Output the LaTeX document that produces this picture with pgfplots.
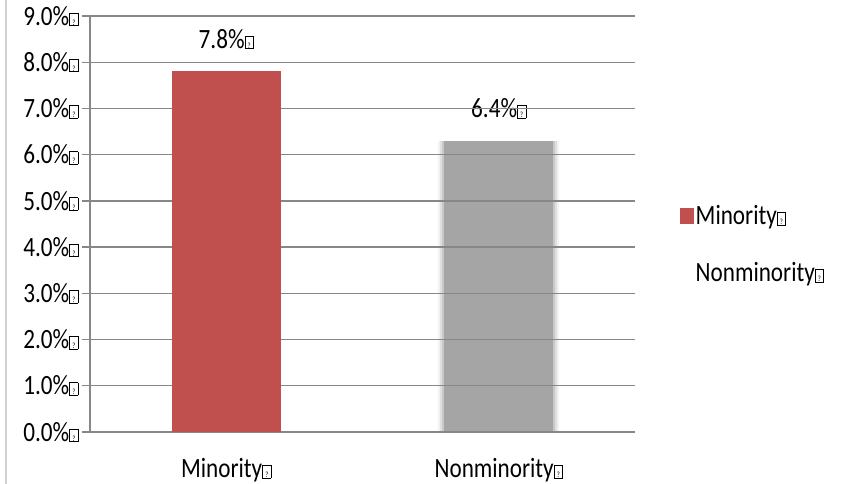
\documentclass[border=0pt]{standalone}
\usepackage{fontspec}
\setmainfont[FakeStretch=0.83]{Carlito}
\usepackage{pgfplots}
\pgfplotsset{compat=1.18}
\definecolor{barred}{HTML}{C0504D}
\definecolor{bargray}{HTML}{A5A5A5}
\definecolor{gridgray}{HTML}{878787}
\newcommand{\qb}{{\setlength\fboxsep{0pt}\setlength\fboxrule{0.6pt}\fbox{\rule{0pt}{12bp}\makebox[8bp]{\fontsize{8}{8}\selectfont ?}}}}
\newcommand{\cf}{\fontsize{28}{32}\selectfont}
\pgfplotsset{base/.style={
  at={(90bp,52bp)}, anchor=south west,
  scale only axis, width=545bp, height=416bp,
  xmin=-0.5, xmax=1.5, ymin=0, ymax=9, clip=false}}
\begin{document}
\begin{tikzpicture}
\path[use as bounding box] (0,0) rectangle (844bp,484bp);
\draw[gray!35, line width=2bp] (6bp,0) -- (6bp,484bp);
% gray bar underneath the grid (soft edges)
\begin{axis}[base, hide axis]
\addplot[ybar, bar width=121bp, bar shift=0pt, fill=bargray, fill opacity=0.15, draw=none]
  coordinates {(1,6.3)};
\addplot[ybar, bar width=117bp, bar shift=0pt, fill=bargray, fill opacity=0.25, draw=none]
  coordinates {(1,6.3)};
\addplot[ybar, bar width=113bp, bar shift=0pt, fill=bargray, fill opacity=0.4, draw=none]
  coordinates {(1,6.3)};
\addplot[ybar, bar width=109bp, bar shift=0pt, fill=bargray, draw=none, point meta=explicit,
  nodes near coords={\pgfmathprintnumber[fixed,fixed zerofill,precision=1]{\pgfplotspointmeta}\%\qb},
  nodes near coords style={font=\cf, anchor=south, yshift=19bp},
  /pgf/number format/assume math mode=true]
  coordinates {(1,6.3) [6.4]};
\end{axis}
\begin{axis}[base,
  axis lines=left, axis line style={-, draw=gridgray, line width=1.3bp},
  ytick={0,1,...,9},
  yticklabels={0.0\%\qb,1.0\%\qb,2.0\%\qb,3.0\%\qb,4.0\%\qb,5.0\%\qb,6.0\%\qb,7.0\%\qb,8.0\%\qb,9.0\%\qb},
  xtick={0,1}, xticklabels={Minority\qb,Nonminority\qb},
  xtick style={draw=none},
  ytick style={draw=gridgray, line width=1.3bp},
  tick align=outside, major tick length=8bp,
  extra x ticks={-0.5,0.5,1.5}, extra x tick labels={},
  extra x tick style={grid=none, major tick length=8bp, tick style={draw=gridgray, line width=1.3bp}},
  ymajorgrids, grid style={draw=gridgray, line width=1.3bp},
  ticklabel style={font=\cf},
  xticklabel style={yshift=-15bp},
  legend style={at={(1.0826,0.451)}, anchor=west, draw=none, fill=none, font=\cf,
    row sep=33bp, inner sep=0pt, nodes={inner sep=1.5bp}},
  legend cell align=left,
]
\addplot[ybar, bar width=109bp, bar shift=0pt, fill=barred, draw=none,
  nodes near coords={\pgfmathprintnumber[fixed,fixed zerofill,precision=1]{\pgfplotspointmeta}\%\qb},
  nodes near coords style={font=\cf, anchor=south, yshift=19bp},
  /pgf/number format/assume math mode=true,
  legend image code/.code={\fill[barred] (0bp,-8bp) rectangle (14bp,8bp);}]
  coordinates {(0,7.8)};
\addlegendentry{Minority\qb}
\addlegendimage{legend image code/.code={\path[draw=none,fill=none] (0bp,-8bp) rectangle (14bp,8bp);}}
\addlegendentry{Nonminority\qb}
\end{axis}
\end{tikzpicture}
\end{document}
